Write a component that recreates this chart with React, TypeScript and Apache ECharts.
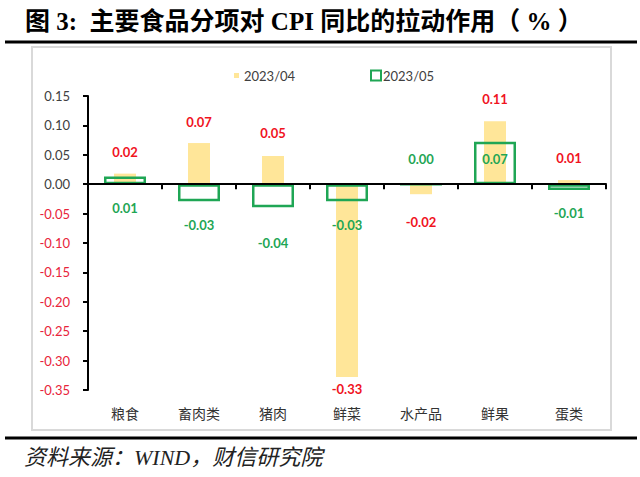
import React, { useEffect, useRef } from "react";
import * as echarts from "echarts";

const categories = ["粮食", "畜肉类", "猪肉", "鲜菜", "水产品", "鲜果", "蛋类"];
const seriesNames = ["2023/04", "2023/05"];
const aprValues = [0.018, 0.07, 0.048, -0.328, -0.017, 0.107, 0.007];
const mayValues = [0.013, -0.029, -0.039, -0.029, 0.0, 0.072, -0.01];
const yMin = -0.35;
const yMax = 0.15;
const yInterval = 0.05;
const titleText = "图 3:  主要食品分项对 CPI 同比的拉动作用（ % ）";
const sourceText = "资料来源：WIND，财信研究院";

// label placements (style, not data)
const aprLabelStyle = [
  { position: "top", distance: 15 },
  { position: "top", distance: 15 },
  { position: "top", distance: 16 },
  { position: "bottom", distance: 5 },
  { position: "bottom", distance: 21 },
  { position: "top", distance: 16 },
  { position: "top", distance: 16 },
];
const mayLabelStyle = [
  { position: "bottom", distance: 17 },
  { position: "bottom", distance: 17 },
  { position: "bottom", distance: 29 },
  { position: "bottom", distance: 17 },
  { position: "top", distance: 17 },
  { position: "inside", offset: [0, -4] },
  { position: "bottom", distance: 16 },
];

const YELLOW = "#FFE699";
const GREEN = "#1FA655";
const RED = "#F0141E";
const NUM_FONT = "Lato, 'Open Sans', sans-serif";
const CJK_FONT = "'Noto Sans CJK SC', sans-serif";
const fmt = (v: number) => (Math.abs(v) < 1e-9 ? 0 : v).toFixed(2);

export default function App() {
  const ref = useRef<HTMLDivElement>(null);
  useEffect(() => {
    if (!ref.current) return;
    const chart = echarts.init(ref.current, undefined, { renderer: "svg" });
    const gridBox = { left: 88, right: 34, top: 96, bottom: 87 };
    chart.setOption({
      animation: false,
      backgroundColor: "#fff",
      title: {
        text: titleText,
        left: 20,
        top: 4,
        textStyle: {
          fontSize: 25,
          fontWeight: "bold",
          color: "#000",
          fontFamily: "'Liberation Serif', 'Noto Sans CJK SC', serif",
        },
      },
      graphic: [
        { type: "line", shape: { x1: 5, y1: 42, x2: 637, y2: 42 }, style: { stroke: "#000", lineWidth: 3 } },
        { type: "line", shape: { x1: 5, y1: 438, x2: 637, y2: 438 }, style: { stroke: "#000", lineWidth: 3 } },
        { type: "rect", shape: { x: 32, y: 47, width: 579, height: 383 }, style: { fill: "none", stroke: "#D9D9D9", lineWidth: 2 } },
        {
          type: "text",
          x: 24,
          y: 457,
          style: {
            text: sourceText,
            fontSize: 22,
            fontStyle: "italic",
            fontFamily: "'Liberation Serif', 'Noto Sans CJK SC', serif",
            fill: "#222",
            verticalAlign: "middle",
          },
        },
      ],
      legend: [
        {
          data: [seriesNames[0]],
          left: 229,
          top: 64,
          icon: "rect",
          itemWidth: 5,
          itemHeight: 5,
          textStyle: { fontSize: 13, color: "#404040", fontFamily: NUM_FONT },
        },
        {
          data: [seriesNames[1]],
          left: 365,
          top: 64,
          icon: "rect",
          itemWidth: 10,
          itemHeight: 10,
          itemGap: 3,
          textStyle: { fontSize: 13, color: "#404040", fontFamily: NUM_FONT, padding: [0, 0, 0, -3] },
        },
      ],
      grid: { ...gridBox, containLabel: false },
      xAxis: [
        {
          type: "category",
          data: categories,
          position: "bottom",
          z: 5,
          axisLine: { onZero: true, lineStyle: { color: "#000", width: 2 } },
          axisTick: { show: true, length: 5, lineStyle: { color: "#000", width: 2 } },
          axisLabel: { show: false },
          splitLine: { show: false },
        },
        {
          type: "category",
          data: categories,
          position: "bottom",
          axisLine: { show: false, onZero: false },
          axisTick: { show: false },
          axisLabel: { show: true, color: "#333", fontSize: 14, margin: 16, fontFamily: CJK_FONT },
          splitLine: { show: false },
        },
        {
          type: "category",
          data: categories,
          show: false,
        },
      ],
      yAxis: {
        type: "value",
        min: yMin,
        max: yMax,
        interval: yInterval,
        z: 5,
        axisLine: { show: true, lineStyle: { color: "#000", width: 2 } },
        axisTick: { show: true, length: 5, lineStyle: { color: "#000", width: 2 } },
        splitLine: { show: false },
        axisLabel: {
          margin: 18,
          fontSize: 13,
          fontFamily: NUM_FONT,
          formatter: (v: number) => fmt(Number(v)),
          color: (v: any) => (Number(v) < -1e-9 ? "#E8243A" : "#404040"),
        },
      },
      series: [
        {
          name: seriesNames[0],
          type: "bar",
          xAxisIndex: 2,
          barWidth: 22,
          itemStyle: { color: YELLOW },
          data: aprValues.map((v, i) => ({
            value: v,
            label: { ...aprLabelStyle[i] },
          })),
          label: {
            show: true,
            color: RED,
            fontWeight: "bold",
            fontSize: 13,
            fontFamily: NUM_FONT,
            formatter: (p: any) => fmt(p.value),
          },
        },
        {
          name: seriesNames[1],
          type: "bar",
          xAxisIndex: 0,
          barWidth: 42,
          itemStyle: { color: "rgba(0,0,0,0)", borderColor: GREEN, borderWidth: 2.5 },
          data: mayValues.map((v, i) => ({
            value: v,
            label: { ...mayLabelStyle[i] },
          })),
          label: {
            show: true,
            color: GREEN,
            fontWeight: "bold",
            fontSize: 13,
            fontFamily: NUM_FONT,
            formatter: (p: any) => fmt(p.value),
          },
        },
      ],
    });
    return () => chart.dispose();
  }, []);
  return (
    <div
      ref={ref}
      style={{ position: "absolute", left: 0, top: 0, width: 640, height: 477 }}
    />
  );
}
